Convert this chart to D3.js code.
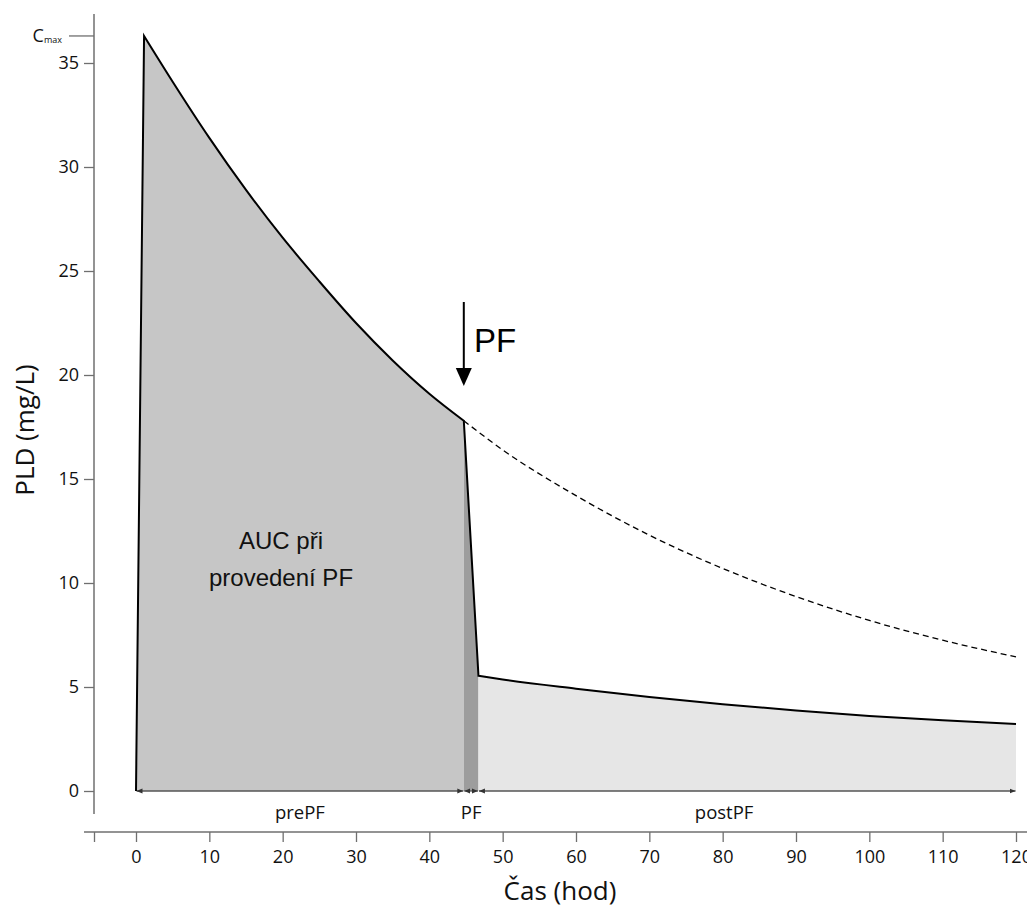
<!DOCTYPE html>
<html lang="cs">
<head>
<meta charset="utf-8">
<title>PLD – Čas</title>
<script src="https://cdn.jsdelivr.net/npm/d3@7"></script>
<style>
  html, body { margin: 0; padding: 0; background: #fff; }
  svg { display: block; }
  .tick text { font-family: "Open Sans", sans-serif; font-size: 18px; fill: #111; }
</style>
</head>
<body>
<svg id="chart" width="1027" height="909"></svg>
<script>
// Axis ticks
const timeTicks = [0, 10, 20, 30, 40, 50, 60, 70, 80, 90, 100, 110, 120];
const concTicks = [0, 5, 10, 15, 20, 25, 30, 35];
const cMax = 36.3;

// Concentration before plasmapheresis: rise to Cmax, then elimination
const prePFCurve = [
  [0, 0], [1.1, 36.3], [5, 34.1], [10, 31.4], [15, 28.9], [20, 26.6],
  [25, 24.5], [30, 22.5], [35, 20.7], [40, 19.1], [44.7, 17.8]
];
// Drop during plasmapheresis
const pfDrop = [[44.7, 17.8], [46.7, 5.54]];
// Concentration after plasmapheresis
const postPFCurve = [
  [46.7, 5.54], [50, 5.36], [60, 4.92], [70, 4.52], [80, 4.17],
  [90, 3.87], [100, 3.61], [110, 3.4], [120, 3.22]
];
// Expected course without plasmapheresis
const noPFCurve = [
  [44.7, 17.8], [50, 16.4], [60, 14.2], [70, 12.3], [80, 10.7],
  [90, 9.35], [100, 8.2], [110, 7.25], [120, 6.45]
];
// Intervals marked along the time axis
const intervalNames = ["prePF", "PF", "postPF"];
const intervalStart = [0, 44.7, 46.7];
const intervalEnd = [44.7, 46.7, 120];
const intervalLabelAt = [22.35, 45.7, 80.2];

const svg = d3.select("#chart");
const x = d3.scaleLinear().domain([0, 120]).range([136, 1016]);
const y = d3.scaleLinear().domain([0, 35]).range([791, 63]);

const axisColor = "#6f6f6f";
const yAxisX = 94, yAxisTop = 14, yAxisBottom = 814;
const xAxisY = 832, xAxisLeft = 84, xAxisRight = 1027;

// --- shaded areas ---
const decayLine = d3.line().x(d => x(d[0])).y(d => y(d[1])).curve(d3.curveMonotoneX);
const decayPath = decayLine(prePFCurve.slice(1));
const prePath = `M${x(prePFCurve[0][0])},${y(0)}L` + decayPath.slice(1) +
  `L${x(intervalEnd[0])},${y(0)}Z`;
svg.append("path").attr("d", prePath).attr("fill", "#c6c6c6");

const bandPoly = [[pfDrop[0][0], 0], ...pfDrop, [pfDrop[1][0], 0]];
svg.append("path")
  .attr("d", d3.line().x(d => x(d[0])).y(d => y(d[1]))(bandPoly) + "Z")
  .attr("fill", "#9d9d9d");

const postArea = d3.area().x(d => x(d[0])).y0(y(0)).y1(d => y(d[1])).curve(d3.curveMonotoneX);
svg.append("path").datum(postPFCurve).attr("d", postArea).attr("fill", "#e6e6e6");

// --- baseline with interval arrows ---
const defs = svg.append("defs");
["start", "end"].forEach(k => {
  defs.append("marker")
    .attr("id", "tip-" + k)
    .attr("markerUnits", "userSpaceOnUse")
    .attr("markerWidth", 6).attr("markerHeight", 6)
    .attr("viewBox", "0 -3 6 6")
    .attr("refX", k === "end" ? 6 : 0).attr("refY", 0)
    .attr("orient", "auto")
    .append("path")
    .attr("d", k === "end" ? "M0,-2.5L6,0L0,2.5Z" : "M6,-2.5L0,0L6,2.5Z")
    .attr("fill", "#333");
});
intervalNames.forEach((n, i) => {
  svg.append("line")
    .attr("x1", x(intervalStart[i]) + 0.5).attr("x2", x(intervalEnd[i]) - 0.5)
    .attr("y1", y(0)).attr("y2", y(0))
    .attr("stroke", "#555").attr("stroke-width", 1.3)
    .attr("marker-start", "url(#tip-start)")
    .attr("marker-end", "url(#tip-end)");
  svg.append("text")
    .attr("x", x(intervalLabelAt[i])).attr("y", 819)
    .attr("text-anchor", "middle")
    .attr("font-family", "Open Sans, sans-serif").attr("font-size", 18.5)
    .attr("fill", "#111")
    .text(n);
});

// --- curves ---
svg.append("path").datum(noPFCurve)
  .attr("d", decayLine).attr("fill", "none")
  .attr("stroke", "#000").attr("stroke-width", 1.3).attr("stroke-dasharray", "6,4");

const solidPath = `M${x(prePFCurve[0][0])},${y(prePFCurve[0][1])}L` + decayPath.slice(1) +
  `L${x(pfDrop[1][0])},${y(pfDrop[1][1])}` + "L" + decayLine(postPFCurve).slice(1);
svg.append("path").attr("d", solidPath).attr("fill", "none")
  .attr("stroke", "#000").attr("stroke-width", 2).attr("stroke-linejoin", "miter");

// --- axes ---
const yAxis = svg.append("g").attr("transform", `translate(${yAxisX},0)`)
  .call(d3.axisLeft(y).tickValues(concTicks).tickSize(10).tickPadding(5));
yAxis.select(".domain").remove();
yAxis.selectAll(".tick line").attr("stroke", axisColor).attr("stroke-width", 1.3);
svg.append("line")
  .attr("x1", yAxisX).attr("x2", yAxisX).attr("y1", yAxisTop).attr("y2", yAxisBottom)
  .attr("stroke", axisColor).attr("stroke-width", 1.5);

// Cmax marker
svg.append("line")
  .attr("x1", yAxisX - 25).attr("x2", yAxisX).attr("y1", y(cMax)).attr("y2", y(cMax))
  .attr("stroke", axisColor).attr("stroke-width", 1.3);
const cmaxText = svg.append("text")
  .attr("x", 62).attr("y", y(cMax) + 6)
  .attr("text-anchor", "end")
  .attr("font-family", "Open Sans, sans-serif").attr("font-size", 18).attr("fill", "#111");
cmaxText.append("tspan").text("C");
cmaxText.append("tspan").attr("font-size", 9).attr("dy", 1).text("max");

const xTickValues = [x.invert(yAxisX), ...timeTicks];
const xAxis = svg.append("g").attr("transform", `translate(0,${xAxisY})`)
  .call(d3.axisBottom(x).tickValues(xTickValues).tickSize(10).tickPadding(8)
    .tickFormat((d, i) => i === 0 ? "" : d3.format("d")(d)));
xAxis.select(".domain").remove();
xAxis.selectAll(".tick line").attr("stroke", axisColor).attr("stroke-width", 1.3);
svg.append("line")
  .attr("x1", xAxisLeft).attr("x2", xAxisRight).attr("y1", xAxisY).attr("y2", xAxisY)
  .attr("stroke", axisColor).attr("stroke-width", 1.5);

// axis titles
svg.append("text")
  .attr("x", 560).attr("y", 900).attr("text-anchor", "middle")
  .attr("font-family", "Open Sans, sans-serif").attr("font-size", 26).attr("fill", "#111")
  .text("Čas (hod)");
svg.append("text")
  .attr("transform", "translate(34,430) rotate(-90)").attr("text-anchor", "middle")
  .attr("font-family", "Open Sans, sans-serif").attr("font-size", 26).attr("fill", "#111")
  .text("PLD (mg/L)");

// --- annotations ---
const arrowX = x(pfDrop[0][0]);
svg.append("line")
  .attr("x1", arrowX).attr("x2", arrowX).attr("y1", 302).attr("y2", 372)
  .attr("stroke", "#000").attr("stroke-width", 2);
svg.append("path")
  .attr("d", `M${arrowX - 8},368L${arrowX + 8},368L${arrowX},386Z`)
  .attr("fill", "#000");
svg.append("text")
  .attr("x", 474).attr("y", 352)
  .attr("font-family", "Liberation Sans, Arial, sans-serif").attr("font-size", 33).attr("fill", "#000")
  .text("PF");

const auc = svg.append("text")
  .attr("text-anchor", "middle")
  .attr("font-family", "Liberation Sans, Arial, sans-serif").attr("font-size", 24).attr("fill", "#111");
auc.append("tspan").attr("x", 281).attr("y", 549).text("AUC při");
auc.append("tspan").attr("x", 281).attr("y", 586).text("provedení PF");
</script>
</body>
</html>
